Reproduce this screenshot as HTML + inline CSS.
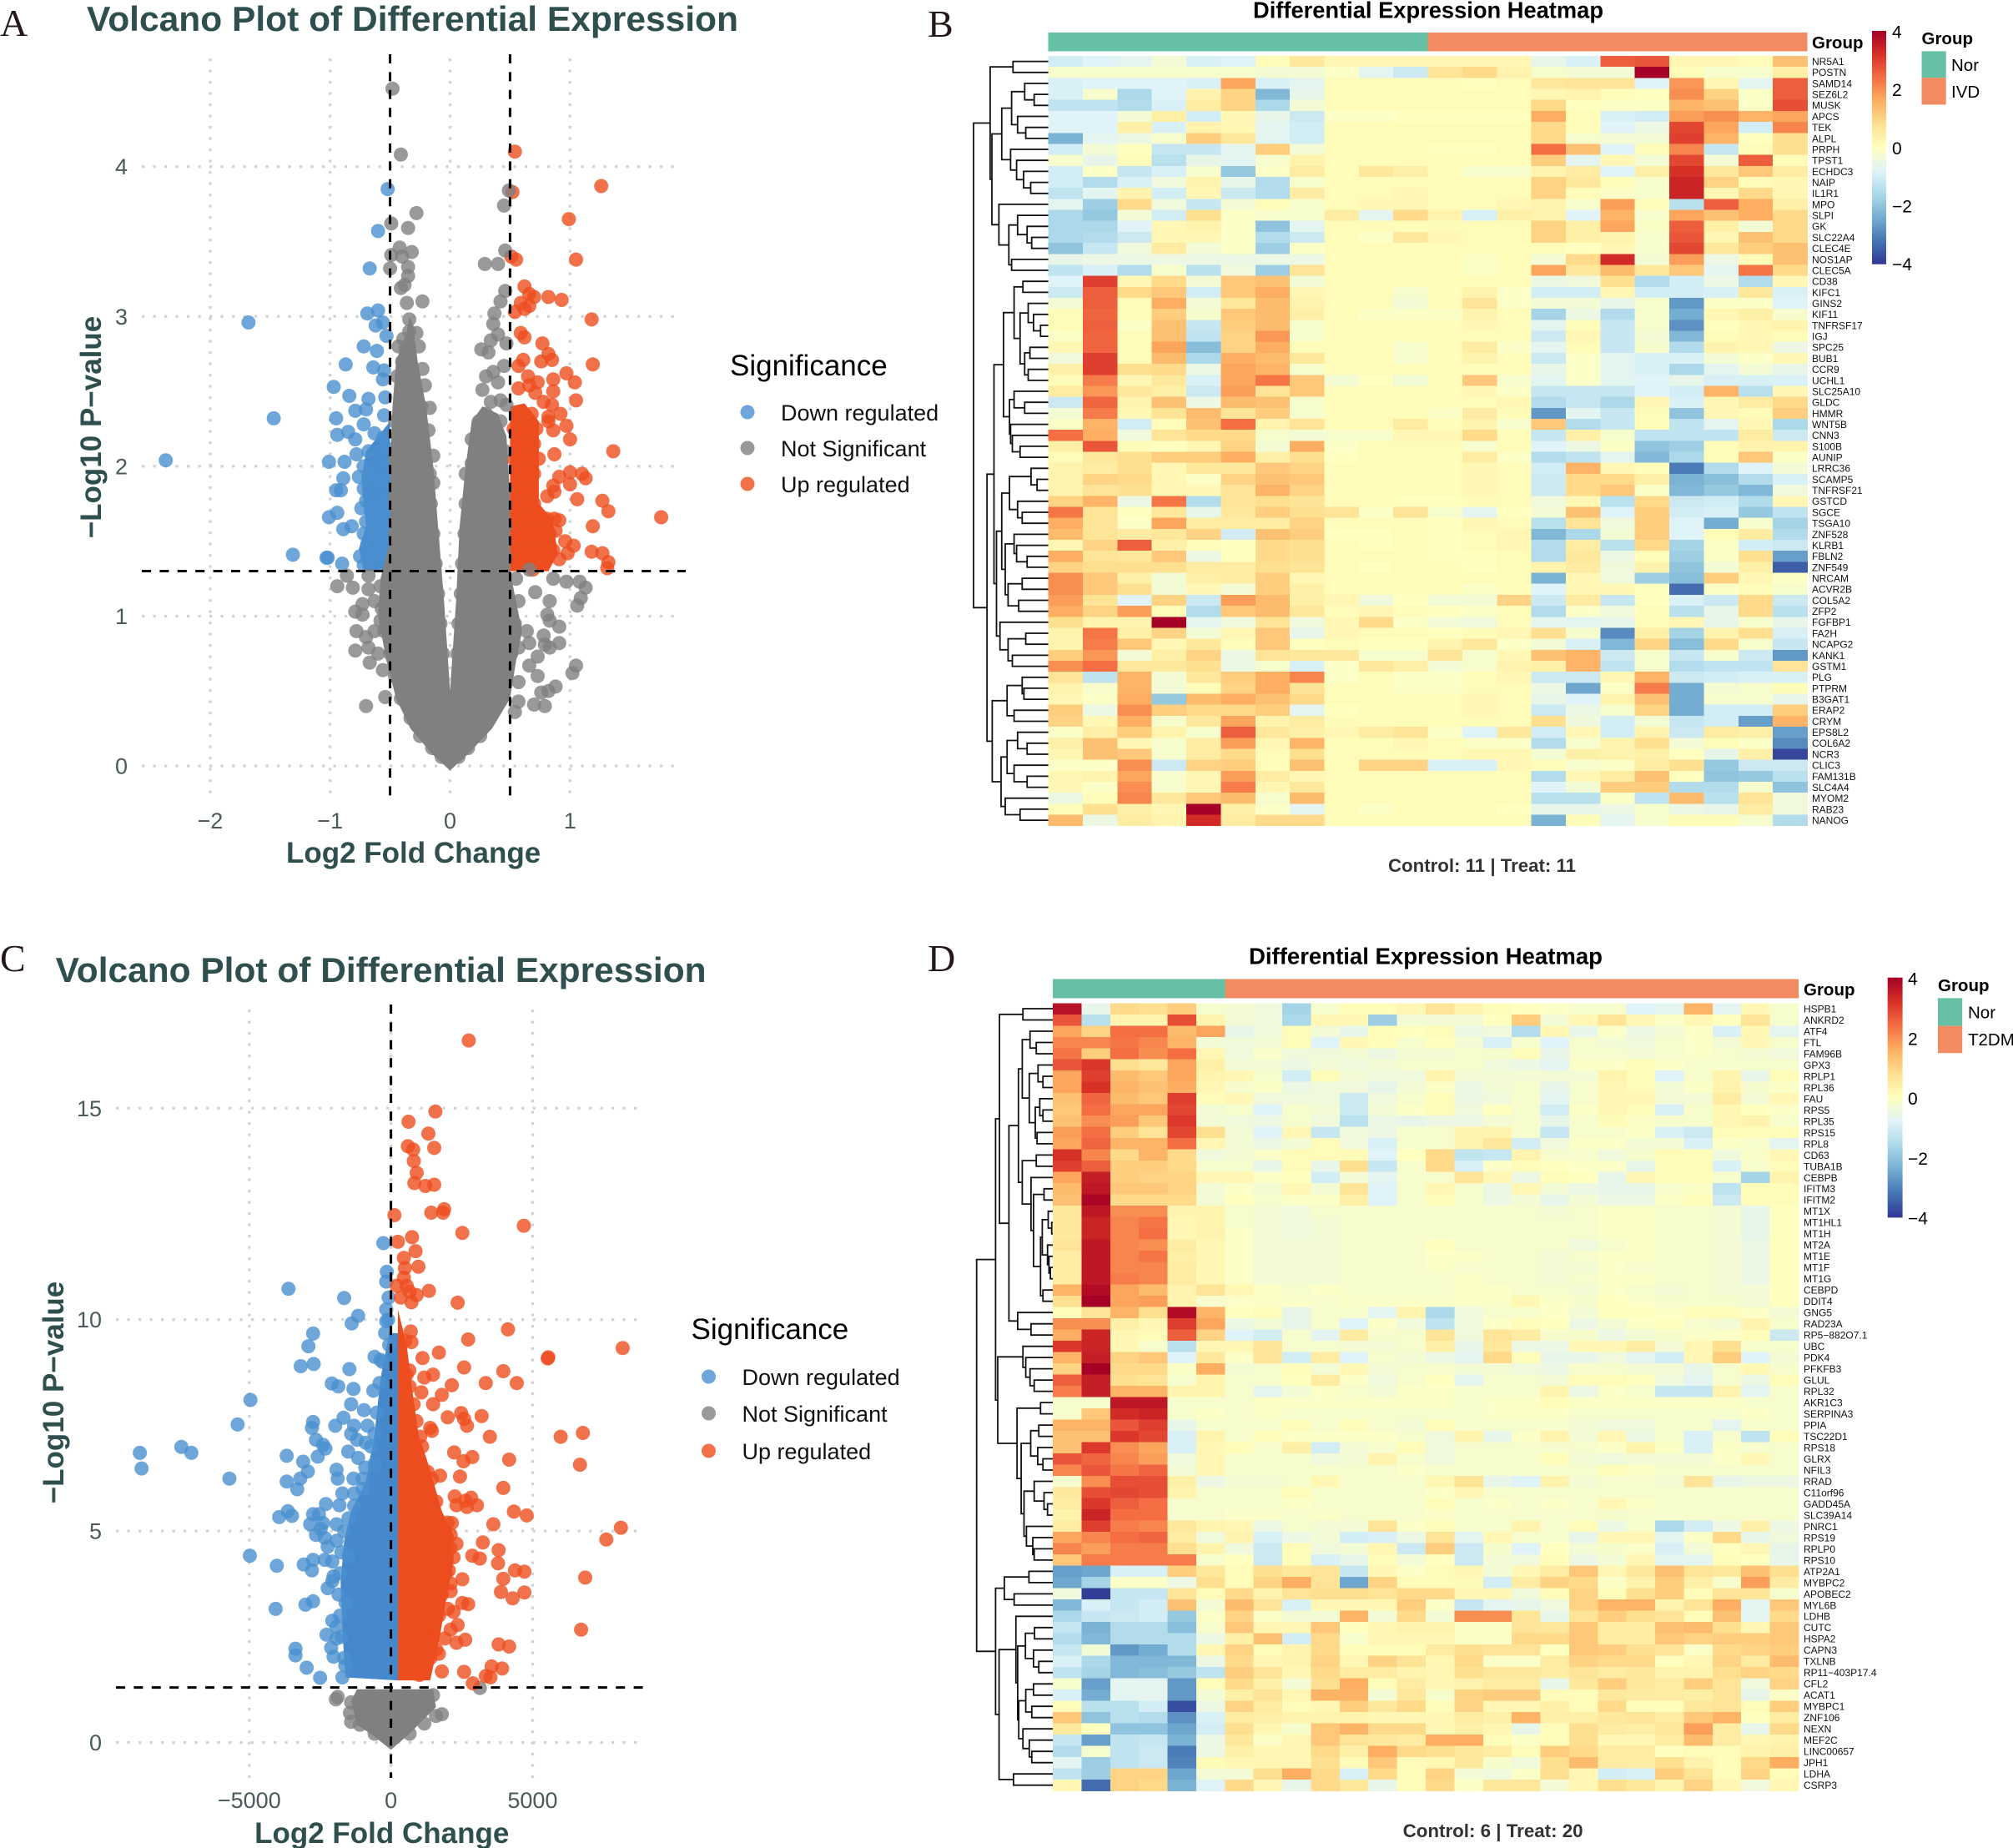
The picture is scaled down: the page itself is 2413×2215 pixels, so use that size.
<!DOCTYPE html>
<html lang="en">
<head>
<meta charset="utf-8">
<title>Volcano plots and differential expression heatmaps</title>
<style>
html,body{margin:0;padding:0;background:#fff;}
svg{display:block;overflow:hidden;font-family:"Liberation Sans",Arial,sans-serif;}
.letter{font-family:"Liberation Serif",serif;font-size:46px;fill:#231815;}
.vtitle{font-weight:bold;font-size:42px;fill:#2F4F4F;}
.axt{font-weight:bold;font-size:35px;fill:#2F4F4F;}
.legt{font-size:35px;fill:#000;}
.legl{font-size:27px;fill:#111;}
.htitle{font-weight:bold;font-size:27.5px;fill:#000;}
.cap{font-weight:bold;font-size:22px;fill:#333;}
.grp{font-weight:bold;font-size:20.5px;fill:#000;}
.hleg{font-size:20.5px;fill:#000;}
</style>
</head>
<body>
<svg id="fig" xmlns="http://www.w3.org/2000/svg" width="2413" height="2215" viewBox="0 0 2413 2215">
<defs>
<linearGradient id="cbarGrad" x1="0" y1="0" x2="0" y2="1"></linearGradient>
</defs>
<rect x="0" y="0" width="2413" height="2215" fill="#fff"/>

<g id="panelA">
<text class="letter" x="0" y="43">A</text>
<text class="vtitle" x="104" y="37" textLength="781" lengthAdjust="spacingAndGlyphs">Volcano Plot of Differential Expression</text>
<text class="axt" x="495.6" y="1034" text-anchor="middle">Log2 Fold Change</text>
<text class="axt" x="121" y="512" text-anchor="middle" transform="rotate(-90 121 512)">−Log10 P−value</text>
<text class="legt" x="875" y="450">Significance</text>
<circle cx="896" cy="494" r="8.5" fill="#4A90D0" fill-opacity=".8"/>
<text class="legl" x="936" y="504">Down regulated</text>
<circle cx="896" cy="537" r="8.5" fill="#808080" fill-opacity=".8"/>
<text class="legl" x="936" y="547">Not Significant</text>
<circle cx="896" cy="580" r="8.5" fill="#EE4E1E" fill-opacity=".8"/>
<text class="legl" x="936" y="590">Up regulated</text>
</g>

<g id="panelC">
<text class="letter" x="0" y="1164">C</text>
<text class="vtitle" x="66.6" y="1177" textLength="780" lengthAdjust="spacingAndGlyphs">Volcano Plot of Differential Expression</text>
<text class="axt" x="457.7" y="2209" text-anchor="middle">Log2 Fold Change</text>
<text class="axt" x="76" y="1669" text-anchor="middle" transform="rotate(-90 76 1669)">−Log10 P−value</text>
<text class="legt" x="828.5" y="1605">Significance</text>
<circle cx="849.5" cy="1650" r="8.5" fill="#4A90D0" fill-opacity=".8"/>
<text class="legl" x="889.5" y="1660">Down regulated</text>
<circle cx="849.5" cy="1694" r="8.5" fill="#808080" fill-opacity=".8"/>
<text class="legl" x="889.5" y="1704">Not Significant</text>
<circle cx="849.5" cy="1739" r="8.5" fill="#EE4E1E" fill-opacity=".8"/>
<text class="legl" x="889.5" y="1749">Up regulated</text>
</g>

<g id="panelB">
<text class="letter" x="1112" y="44">B</text>
<text class="htitle" x="1502" y="21.5" textLength="420" lengthAdjust="spacingAndGlyphs">Differential Expression Heatmap</text>
<text class="grp" x="2172" y="58">Group</text>
<text class="grp" x="2303.5" y="53">Group</text>
<rect x="2303.5" y="61.4" width="29.2" height="31.8" fill="#66C0A5"/>
<rect x="2303.5" y="93.2" width="29.2" height="32.2" fill="#F28B61"/>
<text class="hleg" x="2339" y="85">Nor</text>
<text class="hleg" x="2339" y="117">IVD</text>
<text class="cap" x="1664" y="1045" textLength="225" lengthAdjust="spacingAndGlyphs">Control: 11 | Treat: 11</text>
<rect x="2244" y="37" width="17" height="279.7" fill="url(#cbarGrad)"/>
</g>

<g id="panelD">
<text class="letter" x="1112" y="1164">D</text>
<text class="htitle" x="1497" y="1155.6" textLength="424" lengthAdjust="spacingAndGlyphs">Differential Expression Heatmap</text>
<text class="grp" x="2162" y="1193">Group</text>
<text class="grp" x="2323" y="1188">Group</text>
<rect x="2323" y="1196.3" width="29.2" height="33.3" fill="#66C0A5"/>
<rect x="2323" y="1229.6" width="29.2" height="32.6" fill="#F28B61"/>
<text class="hleg" x="2359" y="1220.5">Nor</text>
<text class="hleg" x="2359" y="1253">T2DM</text>
<text class="cap" x="1681.6" y="2202" textLength="216" lengthAdjust="spacingAndGlyphs">Control: 6 | Treat: 20</text>
<rect x="2262.7" y="1171.7" width="17.9" height="287.7" fill="url(#cbarGrad)"/>
</g>
</svg>

<script>
/* ---------- Panel A data: [log2FC, -log10 p] ---------- */
const aXTicks=[-2,-1,0,1];
const aYTicks=[0,1,2,3,4];
const aVLines=[-0.5,0.5];
const aHLine=1.301;
const aDown=[[-2.37,2.04],[-1.68,2.96],[-1.47,2.32],[-1.31,1.41],[-1.03,1.39],[-1.02,1.39],[-.9,1.35],[-1.01,2.03],[-.88,2.03],[-.89,1.92],[-.95,1.84],[-.91,1.84],[-1.01,1.66],[-.94,1.69],[-.89,1.58],[-.82,1.6],[-.97,2.53],[-.84,2.47],[-.95,2.32],[-.87,2.68],[-.72,2.8],[-.67,3.32],[-.6,3.57],[-.52,3.85],[-.69,3.02],[-.6,3.04],[-.62,2.94],[-.56,2.96],[-.53,2.87],[-.61,2.77],[-.64,2.66],[-.55,2.64],[-.56,2.58],[-.68,2.45],[-.54,2.46],[-.55,2.34],[-.79,2.37],[-.7,2.38],[-.72,2.28],[-.94,2.21],[-.85,2.23],[-.79,2.18],[-.63,2.22],[-.56,2.19],[-.78,2.08],[-.68,2.1],[-.6,2.1],[-.53,2.12],[-.72,2],[-.64,2],[-.55,2.03],[-.76,1.93],[-.68,1.93],[-.6,1.93],[-.53,1.95],[-.72,1.85],[-.64,1.85],[-.56,1.87],[-.7,1.77],[-.62,1.78],[-.54,1.79],[-.74,1.72],[-.66,1.7],[-.58,1.71],[-.52,1.72],[-.7,1.63],[-.62,1.63],[-.55,1.64],[-.72,1.55],[-.65,1.56],[-.58,1.56],[-.52,1.58],[-.69,1.48],[-.62,1.49],[-.55,1.49],[-.75,1.4],[-.68,1.41],[-.6,1.42],[-.53,1.42],[-.72,1.34],[-.64,1.35],[-.57,1.35],[-.52,1.36]];
const aUp=[[.54,4.1],[.52,3.83],[1.26,3.87],[.99,3.65],[1.05,3.38],[.51,3.4],[.55,3.38],[.62,3.2],[.66,3.15],[.7,3.13],[.82,3.13],[.93,3.11],[.59,3.09],[.66,3.07],[.54,3.03],[.62,3.05],[1.18,2.98],[.59,2.89],[.62,2.86],[.77,2.82],[.82,2.75],[1.19,2.68],[.76,2.7],[.85,2.71],[.61,2.71],[.57,2.67],[.97,2.62],[1.04,2.56],[.86,2.58],[.65,2.6],[.73,2.56],[.86,2.5],[.66,2.54],[.57,2.52],[.71,2.49],[1.05,2.44],[.78,2.43],[.85,2.41],[.92,2.35],[.82,2.33],[.97,2.27],[.86,2.24],[.82,2.3],[1,2.18],[.87,2.08],[1.36,2.1],[1,1.96],[1.1,1.95],[1.13,1.92],[.91,1.93],[.86,1.87],[1,1.88],[.87,1.83],[.81,1.8],[1.06,1.78],[1.27,1.77],[1.32,1.7],[1.76,1.66],[1.19,1.6],[.91,1.64],[.88,1.57],[1.18,1.43],[1.27,1.42],[1.32,1.36],[1.31,1.32],[1.03,1.47],[.96,1.5],[.98,1.42],[.91,1.38],[.86,1.44],[.79,1.38],[.69,1.31],[.55,2.35],[.62,2.35],[.68,2.35],[.53,2.25],[.6,2.25],[.67,2.25],[.72,2.25],[.56,2.15],[.63,2.15],[.7,2.15],[.53,2.05],[.6,2.05],[.67,2.05],[.74,2.05],[.56,1.95],[.63,1.95],[.7,1.95],[.53,1.85],[.6,1.85],[.67,1.85],[.56,1.75],[.63,1.75],[.7,1.75],[.53,1.65],[.6,1.65],[.67,1.65],[.74,1.65],[.81,1.65],[.87,1.65],[.56,1.55],[.63,1.55],[.7,1.55],[.77,1.55],[.83,1.55],[.53,1.45],[.6,1.45],[.67,1.45],[.74,1.45],[.81,1.45],[.55,1.37],[.62,1.37],[.7,1.37],[.78,1.37]];
const aNS=[[-.48,4.52],[-.41,4.08],[-.28,3.69],[-.49,3.62],[-.35,3.59],[-.42,3.46],[-.32,3.43],[-.49,3.41],[-.4,3.4],[-.5,3.32],[-.35,3.33],[-.35,3.27],[-.38,3.21],[-.41,3.19],[-.23,3.1],[-.36,3.09],[-.34,2.98],[-.34,2.9],[-.28,2.89],[-.39,2.85],[-.26,2.8],[-.43,2.8],[-.23,2.65],[-.21,2.54],[-.17,2.39],[-.18,2.24],[-.14,2.07],[-.14,1.89],[.49,3.84],[.45,3.74],[.46,3.44],[.29,3.35],[.4,3.35],[.46,3.17],[.42,3.1],[.37,3.02],[.36,2.95],[.4,2.88],[.34,2.84],[.47,2.82],[.26,2.78],[.32,2.76],[.3,2.6],[.36,2.63],[.45,2.67],[.27,2.51],[.4,2.56],[.42,2.44],[.34,2.43],[.3,2.35],[.18,2.02],[.47,2.41],[-.86,1.27],[-.94,1.2],[-.81,1.19],[-.68,1.18],[-.73,1.08],[-.79,1.03],[-.73,1.01],[-.78,.9],[-.7,.86],[-.79,.77],[-.68,.79],[-.67,.69],[-.56,.64],[-.7,.4],[-.54,.46],[-.63,.9],[-.6,.75],[-.63,1.1],[-.68,1.27],[-.58,.97],[1.13,1.19],[1.08,1.23],[.97,1.23],[.86,1.25],[1.09,1.12],[1.06,1.07],[.83,1.1],[.81,1.01],[.83,.97],[.91,.93],[.78,.87],[.91,.82],[.83,.79],[.79,.81],[.73,.73],[.66,.82],[1.05,.67],[1.02,.62],[.66,.67],[.73,.6],[.88,.53],[.82,.5],[.76,.49],[.7,.41],[.79,.4],[.57,.56],[.57,.43],[.54,.36],[.57,.79],[.64,.9],[.71,1.16],[.66,1.31],
[-.17,1.95],[-.16,1.75],[-.14,1.55],[-.12,1.35],[-.1,1.15],[-.08,.95],[-.06,.75],[.13,1.95],[.13,1.75],[.12,1.55],[.1,1.35],[.09,1.15],[.07,.95],[.06,.75],
[-.58,1.2],[-.57,1.05],[-.55,.9],[-.5,.75],[-.46,.6],[-.41,.45],[-.33,.32],[-.25,.2],[-.15,.12],[-.07,.06],[.07,.06],[.15,.12],[.25,.2],[.33,.32],[.41,.45],[.46,.6],[.51,.75],[.54,.95],[.57,1.1],[.55,1.25],
[-.44,2.6],[-.4,2.7],[-.3,2.55],[-.37,2.78],[-.24,2.4],[-.46,2.3],[-.46,2.05],[-.46,1.8],[-.46,1.55],[.32,2.33],[.24,2.3],[.18,2.18],[.42,2.3],[.46,2.1],[.46,1.85],[.46,1.6],[.46,1.4]];
/* silhouettes of the overplotted clouds */
const aNSCore=[[0,-.03],[-.15,.08],[-.33,.25],[-.45,.45],[-.53,.7],[-.6,1],[-.58,1.25],[-.5,1.5],[-.5,2],[-.48,2.4],[-.45,2.7],[-.36,2.9],[-.34,3],[-.31,2.95],[-.27,2.7],[-.2,2.4],[-.14,2],[-.1,1.6],[-.05,1.1],[0,.5],[.05,1.1],[.08,1.6],[.13,2],[.18,2.3],[.27,2.4],[.4,2.35],[.47,2.2],[.5,1.8],[.5,1.3],[.55,1.1],[.6,.9],[.55,.7],[.5,.45],[.35,.25],[.15,.08]];
const aDownCore=[[-.5,1.3],[-.72,1.3],[-.76,1.45],[-.7,1.6],[-.74,1.9],[-.7,2.1],[-.6,2.2],[-.5,2.3]];
const aUpCore=[[.5,1.3],[.82,1.3],[.9,1.42],[.85,1.65],[.74,1.75],[.74,2.3],[.62,2.42],[.5,2.4]];

/* ---------- Panel C data ---------- */
const cXTicks=[-5000,0,5000];
const cYTicks=[0,5,10,15];
const cVLines=[0];
const cHLine=1.301;
const cDown=[[-8863,6.85],[-8801,6.48],[-7396,6.99],[-7045,6.85],[-5702,6.24],[-5413,7.52],[-4958,8.1],[-4979,4.42],[-4029,4.18],[-4070,3.16],[-3677,6.78],[-3099,6.64],[-3615,10.73],[-1653,10.51],[-1157,10.09],[-1384,9.91],[-2748,9.67],[-2913,9.37],[-3182,8.9],[-2727,8.95],[-1467,8.83],[-2087,8.49],[-1859,8.42],[-1322,8.36],[-1405,8],[-2748,7.58],[-2789,7.44],[-1963,7.49],[-1673,7.68],[-1302,7.49],[-826,7.49],[-950,7.86],[-620,8.32],[-578,9.12],[-372,9.05],[-269,11.81],[-145,11.13],[-165,10.9],[-83,10.52],[-165,10.24],[-165,9.96],[-207,9.68],[-62,9.4],[-2645,7.16],[-2397,7.04],[-2314,6.95],[-2583,6.76],[-2934,6.41],[-3202,6.24],[-3677,6.17],[-3306,5.99],[-1921,6.45],[-1880,6.24],[-1405,7.3],[-1198,7.16],[-1508,6.88],[-1157,6.73],[-888,7.09],[-578,7.3],[-1322,6.24],[-991,6.24],[-578,6.59],[-2293,5.64],[-2541,5.4],[-2748,5.4],[-3636,5.47],[-3946,5.33],[-3491,5.36],[-2851,5.16],[-2397,5.19],[-1921,5.16],[-2645,4.91],[-2335,4.84],[-2479,5.05],[-3078,4.21],[-2748,4.32],[-2789,4.07],[-2335,4.32],[-2066,4.28],[-2025,3.93],[-2066,3.82],[-2231,3.65],[-3016,3.26],[-2748,3.34],[-2066,2.88],[-1921,2.74],[-2273,2.55],[-1921,2.46],[-2107,2.24],[-3368,2.22],[-3368,2.06],[-2975,1.77],[-2500,1.53],[-2025,2.03],[-1715,1.54],[-1611,1.82],[-1818,5.61],[-1715,5.89],[-1302,5.89],[-2231,4.63],[-1921,4.77],
[-1650,2],[-1750,2.5],[-1800,3],[-1850,3.5],[-1800,4],[-1750,4.5],[-1650,5],[-1500,5.3],[-1300,5.6],[-1000,6],[-900,6.5],[-700,7],[-500,7.8],[-400,8.5],[-300,9],[-100,10],[-1600,3.3],[-1500,4.4]];
const cUp=[[2748,16.6],[1570,14.92],[620,14.68],[1322,14.4],[599,14.1],[785,14.02],[1529,14.06],[806,13.75],[909,13.47],[826,13.23],[1219,13.16],[1529,13.19],[124,12.47],[1426,12.53],[1880,12.61],[1839,12.53],[4690,12.22],[2521,12.05],[248,11.84],[744,11.95],[868,11.62],[455,11.46],[971,11.25],[496,11.22],[455,10.99],[207,10.8],[558,10.8],[1343,10.68],[661,10.66],[909,10.58],[723,10.41],[351,10.52],[2355,10.4],[4132,9.77],[2727,9.53],[702,9.72],[8181,9.33],[5558,9.11],[5537,9.08],[723,9.47],[1694,9.22],[1116,9.09],[2583,8.87],[3967,8.78],[1488,8.7],[1178,8.63],[4442,8.5],[3347,8.5],[2149,8.45],[558,8.7],[661,8.42],[1074,8.28],[1797,8.22],[1488,8],[2479,7.79],[3202,7.72],[2004,7.69],[2583,7.65],[2686,7.49],[1384,7.44],[1446,7.37],[3492,7.23],[5991,7.23],[6777,7.32],[1033,7.23],[2231,6.86],[2872,6.75],[2562,6.65],[4173,6.69],[6673,6.57],[2438,6.29],[1735,6.31],[3967,6.02],[1446,6.24],[2252,5.82],[2830,5.79],[2314,5.61],[2624,5.72],[2686,5.57],[3037,5.61],[4339,5.46],[4793,5.37],[3615,5.16],[2149,5.19],[8119,5.08],[7603,4.8],[2107,4.91],[2314,4.7],[3244,4.73],[3801,4.55],[2872,4.42],[3140,4.35],[2211,4.38],[3781,4.24],[6859,3.9],[2045,4.07],[3967,3.87],[4380,4.07],[4710,4.04],[2521,3.86],[2107,3.76],[3884,3.56],[4710,3.55],[4297,3.41],[1694,3.65],[2107,3.58],[2727,3.27],[2521,3.3],[2004,3.16],[2211,3.09],[2355,2.78],[2107,2.67],[6714,2.67],[2624,2.43],[2314,2.36],[1900,2.46],[3801,2.32],[4173,2.27],[1694,2.1],[3553,1.8],[3925,1.75],[2583,1.67],[3347,1.57],[3512,1.54],[2892,1.4],[1797,1.68],
[1400,2],[1500,2.6],[1700,3],[1800,3.5],[1950,4],[2100,4.6],[1900,5],[1600,5.7],[1300,6.4],[1100,7],[900,7.6],[800,8],[650,8.8],[500,9.5],[1200,1.8],[1000,1.6],[1600,2.2],[1750,3.9],[2000,5.2]];
const cNS=[[-1942,1.02],[-1880,1.08],[3140,1.29],[-1405,.95],[-1446,.7],[-1405,.49],[-1095,.42],[1591,.63],[1797,.67],[1178,.45],[-578,.21],[661,.21],[1074,.98],[1488,1.12]];
/* silhouettes of the overplotted clouds */
const cDownCore=[[-62,9.68],[-372,8.59],[-578,7.3],[-888,6.17],[-1405,5.47],[-1653,4.77],[-1777,3.79],[-1715,2.67],[-1611,1.54],[248,1.47],[248,9.68]];
const cUpCore=[[248,10.24],[558,9.4],[764,8.28],[971,7.3],[1384,6.45],[1797,5.47],[2211,4.91],[2211,4.28],[1942,3.37],[1735,2.53],[1384,1.47],[248,1.47]];
const cNSCore=[[0,-.17],[-578,.14],[-1198,.42],[-1405,.98],[-1198,1.26],[1488,1.26],[1591,.84],[661,.21]];

/* ---------- Heatmap shared ---------- */
const heatPalette=["#313695","#4575B4","#74ADD1","#ABD9E9","#E0F3F8","#FFFFBF","#FEE090","#FDAE61","#F46D43","#D73027","#A50026"];
const heatTicks=[4,2,0,-2,-4];

/* ---------- Heatmap B ---------- */
const bGroups=[11,11];
const bGenes=["NR5A1","POSTN","SAMD14","SEZ6L2","MUSK","APCS","TEK","ALPL","PRPH","TPST1","ECHDC3","NAIP","IL1R1","MPO","SLPI","GK","SLC22A4","CLEC4E","NOS1AP","CLEC5A","CD38","KIFC1","GINS2","KIF11","TNFRSF17","IGJ","SPC25","BUB1","CCR9","UCHL1","SLC25A10","GLDC","HMMR","WNT5B","CNN3","S100B","AUNIP","LRRC36","SCAMP5","TNFRSF21","GSTCD","SGCE","TSGA10","ZNF528","KLRB1","FBLN2","ZNF549","NRCAM","ACVR2B","COL5A2","ZFP2","FGFBP1","FA2H","NCAPG2","KANK1","GSTM1","PLG","PTPRM","B3GAT1","ERAP2","CRYM","EPS8L2","COL6A2","NCR3","CLIC3","FAM131B","SLC4A4","MYOM2","RAB23","NANOG"];
const bValues=[
[-1,-.8,-.7,-.3,-.9,-.8,.1,.6,.2,.2,.2,.2,.2,.2,-.6,-.9,2.6,2.7,.2,.2,.1,1.3],
[-.2,-.2,-.2,-.2,-.2,-.2,-.3,-.3,-.1,-.7,-1.1,.7,.9,.3,-.2,-.3,-.3,4,.1,-.2,-.2,.4],
[-.9,-.8,-.8,-.8,-.9,1.7,-.9,-.7,.1,.1,.1,.1,0,.1,.6,.7,.7,-.8,1.9,.2,-.7,2.6],
[-.9,-.2,-1.6,-.8,.3,1,-2.2,-.6,.1,.1,.1,.1,.1,.1,.2,.3,.1,0,2,1,-.1,2.6],
[-1.3,-1.3,-1.5,-.9,.5,1,-1.6,-.3,.1,.1,.1,.1,.1,.1,.9,0,-.1,-.1,1.5,1.3,-.1,2.8],
[-.8,-.8,-.3,.4,-1,.2,-.6,-1.1,-.1,-.1,0,0,0,0,1.6,.1,-.9,-1,1.8,2,1.5,1.7],
[-.8,-.8,.4,-.9,.3,.2,-.7,-1,.1,.1,.1,.1,.1,.1,.9,.1,-.8,-.5,2.9,1.7,-1,2.1],
[-2.3,-.7,-.5,-.2,1.1,.6,-.7,-1,.1,.1,.1,.1,.1,.1,.9,-.2,-.3,-.3,3,1.5,0,.8],
[-1,-.3,0,-1.2,-1.2,-.7,1.1,-.3,.1,.1,.1,0,0,.1,2.4,1.3,-.8,.1,2.1,-1.2,.1,.8],
[-.2,-.6,.1,-1.4,-.6,-.7,-.2,.3,.1,.1,.1,.1,.1,.1,1.1,-.7,.2,-.3,2.9,-.3,2.6,.1],
[-1,-.1,-1.2,-.9,-.2,-1.9,-.1,.5,.1,.6,.4,.1,-.2,-.2,.3,.5,-.8,.4,3.2,.6,1.2,.5],
[-1,-1.5,-.9,-.4,.3,-.6,-1.5,-.2,.1,.1,.1,.1,.1,.1,1,.6,.1,-.2,3.4,1,.1,.2],
[-1.3,-.7,.3,-1,.2,-1.1,-1.5,.5,.1,.1,.2,.1,.1,.1,1,.1,-.1,-.2,3.4,.2,.9,.2],
[-.7,-1.8,.9,-.4,-1.2,-.3,.1,-.2,.1,.2,.2,.1,.1,.2,.3,-.2,1.8,.1,-1.4,2.6,1.6,.4],
[-1.6,-1.9,-.3,-1,.8,-.1,-.2,-.2,.5,-.7,.9,.3,-.9,.4,.3,-.8,1.5,-.2,1.7,1.3,1.6,.9],
[-1.6,-1.6,-.8,.2,.3,-.1,-2,-.7,.1,.1,.1,.1,.1,.1,1,.4,1.7,-.1,2.6,.4,-.3,.9],
[-1.6,-1.5,-1.1,.2,.2,-.1,-1.5,-1.1,.1,-.1,.6,.2,.1,.1,1,.4,.3,-.2,2.7,.2,1.3,.9],
[-2,-1.2,-.4,.5,-.3,-.1,-1.8,-.1,.1,.1,.1,.1,.1,.1,.1,0,.2,-.2,2.9,.6,1.1,1.3],
[-.6,-.5,-.5,-.5,-.5,-.5,-.5,-.5,.1,.1,.1,.1,-.1,.1,-.3,.9,3.3,-.3,1.8,-.5,.1,1.3],
[-1.3,-.9,-1.5,-.2,-1.4,-.4,-1.8,.7,.1,.1,.1,.1,-.1,.1,1.7,.6,1.4,.6,1.2,-.7,2.3,.9],
[-.8,3,.2,.9,-.3,1.2,1.3,-.3,.1,.1,.1,.1,.1,.1,-.5,-.4,.8,-1.5,-1,-.5,-1.5,.2],
[-1.1,2.6,.9,1.2,-1,1.2,1.6,.2,.1,.1,-.2,.1,.3,-.1,-1,-1,.2,-1,-1,-.9,.6,-.9],
[-.3,2.6,.1,1.6,-.3,.6,1.4,.3,.1,.1,-.3,.1,.7,-.1,-.3,-.3,-.6,-.2,-2.7,-.1,-.1,-.8],
[.1,2.5,.1,1.1,-.2,1.2,1.4,.4,.1,-.1,-.1,-.1,.3,.1,-1.7,-.5,-1.5,-.2,-2.4,.2,.4,-.2],
[.1,2.6,-.1,1.3,-1.2,1.1,1.4,-.2,.1,.1,.1,.1,.2,.1,-.7,.1,-1.2,-.2,-2.8,0,.2,.3],
[-.1,2.5,.1,1.3,-1.3,1,1.9,-.2,.1,.1,.1,.1,.1,.1,-1.1,.2,-1.2,-.3,-2.2,.1,.2,.1],
[.2,2.5,.1,1.7,-2.1,1,1.6,.1,.1,.1,-.2,.1,.5,-.1,-.7,.1,-1.2,-.2,-1.5,.3,.2,-.5],
[-.4,3,.1,1.4,-1.6,1.6,1.4,.6,.1,.1,-.2,.1,.3,.1,-1.1,-.1,-.7,-.9,-.9,-.3,-.1,.2],
[.4,3,.8,.9,-.5,1.7,1.5,-.2,.1,.1,.1,.1,.1,.1,-.6,-.1,-.7,-.9,-1.6,-.7,-.3,-.6],
[.1,2.2,.2,.6,-.9,1.7,2.3,1.2,-.3,0,-.3,.1,1.2,-.2,-.7,-.1,-.7,-.8,-.6,-.9,-.9,-.9],
[.5,1.9,.6,.4,-1.1,1.8,.7,1.2,.1,.1,.1,.1,.2,-.1,-1.2,-1.2,-1.2,-.8,-1,1.5,-1.4,.2],
[-1.1,2.5,.3,1.3,-.5,1.4,1.3,-.2,.1,.1,.1,.1,.1,.2,-1.5,-1.2,-1.6,.2,-.9,.2,.5,.9],
[-.3,2.2,.2,.7,1.4,.7,1.1,-.2,.1,.1,.1,-.1,.5,.1,-2.7,-.7,-1.2,.1,-2,.2,.1,1.1],
[-.1,1.5,-1,.1,1.3,2.4,.3,.7,.1,.1,.5,.1,.3,-.2,1.2,-1.5,-1.2,.1,-1.3,-.7,.2,-1.6],
[2.4,1.6,-.4,.7,.9,.9,-.2,-.3,-.2,-.2,.2,.2,.9,.1,-1.2,.4,-.2,-1.3,-1.3,-1.3,.5,-1.1],
[.4,2.7,.1,0,.2,1,-.3,1.6,-.1,.1,.1,.1,-.2,.1,-.8,-.5,-.1,-2,-1.8,.1,.3,.3],
[.1,.6,.8,1.1,1.1,1.6,.4,.8,0,.1,.1,.1,.5,-.1,-1.5,-1.3,-.7,-2.2,-1.6,.1,1.2,-.1],
[.3,.5,.8,.2,.6,.6,1.2,1,.1,.1,.1,.1,.2,.1,-1,1.5,.2,.1,-3.1,-1.5,-.8,-.3],
[.3,1,.9,.2,-.1,1,1.3,1.2,.1,.1,.1,.1,.2,.1,-1.1,.9,.9,.4,-2.3,-2.1,-1.5,-.9],
[.3,.7,.8,.2,.2,.7,1.5,1,.1,.1,.1,.1,.2,.1,-1.1,.9,1.2,-.1,-2.2,-1.9,-2.2,-.4],
[1,1.5,-.5,2.3,-1.5,.7,.8,.7,.1,.1,0,0,.1,.1,-.4,.2,-1.4,.9,-1.1,-1,-1.5,.2],
[2.3,.7,0,.6,-.6,.6,1.1,.8,.7,-.1,.7,-.2,-.7,0,-.3,1.3,-.8,1.1,-1,-.9,-1.9,-1.3],
[1.6,.7,-.1,1.7,.5,.5,.5,1,.1,.1,.1,0,.2,.1,-1.4,.7,-.4,1.1,-.8,-2.4,-.2,-1.7],
[1.4,.7,.5,.6,1,-1,1.3,1.1,0,0,.1,0,.1,.2,-2.2,-1.6,-.3,1.1,-.8,.1,.5,-1.5],
[.2,1,2.6,.4,.1,0,.9,.8,.1,0,.1,0,.1,.2,-1.5,.5,-1.4,.9,-1.7,-.1,-1,-1.1],
[1.6,.7,.6,1.2,-.5,0,.9,.8,.1,.1,.1,0,0,.1,-1.5,.6,-.5,.1,-1.8,-.1,.8,-2.6],
[1,.8,.8,.8,.5,.5,.8,.7,.1,0,.1,.1,0,.1,.3,.5,-.4,.3,-2,-.3,.4,-3.5],
[2,1.2,.4,-.3,.4,.5,1.1,.2,.1,.1,.1,.1,.1,.1,-2.3,.2,-.4,-1.8,-2.1,1.1,.2,-.1],
[2,1.2,.8,-.3,.2,-.3,1.1,.4,.1,.1,.1,.1,-.1,.1,-.8,.2,.2,0,-3.3,-.1,.1,-.2],
[1.8,.7,-.8,1,-1.1,1.8,1.4,.4,.2,-.4,0,-.3,-.3,1,-1.1,.5,-1.2,0,-.9,-1.1,.9,-1.1],
[1.6,1,1.8,.1,-1.5,1.2,1.4,.6,.1,.2,.1,0,-.1,.1,-1.5,-.1,-.4,.1,-1.4,-.6,.9,-1.4],
[.8,.3,.3,4,-.7,-.4,.7,-.4,.2,.9,-.1,-.3,-.4,.1,-.7,-.7,-.6,.1,.2,-.6,-.2,-.6],
[.3,2.3,.4,1,-.3,.2,1.2,-.6,.2,.1,.1,0,.1,.2,.8,-.2,-2.9,.4,-1.7,.3,.8,-.9],
[.3,2.2,1.2,.2,.6,.1,1.2,0,.1,0,0,.3,.6,-.1,-.3,-.9,-2.2,1,-2.1,.9,-.2,-1.2],
[1.1,1.9,-.3,.4,1,-.5,.7,.6,.6,-.2,-.2,.7,-.2,.2,1.3,1.5,-1.1,-.2,-1.2,-.2,-1.1,-2.7],
[2,2.4,.6,.6,.8,-.5,-.2,-.9,-.1,.6,.4,-.3,-.2,.3,.4,1.5,-1.3,-.2,-1.5,-1.3,-1.3,.7],
[.7,-1.3,1.5,-.3,.6,1.1,1.6,2.1,-.1,.1,-.1,-.1,.1,.2,-1.1,-1.1,.2,1.5,-1.1,-1,-.9,-.9],
[.3,-.2,1.5,-.3,.1,1,1.6,.7,.1,.1,-.1,-.1,.1,.1,-.5,-2.5,-.1,2.2,-2.4,-.3,-.2,.1],
[.2,-.1,1.6,-1.9,1.4,1.6,1.3,.9,.1,.1,.1,.1,.2,.1,-.6,-.8,.3,1.3,-2.4,-.2,-.2,-.6],
[1.1,-.5,2,1.1,.9,.9,1.1,-.7,0,.1,.1,.1,.2,.1,-1.1,-.5,-.2,1,-2.4,-1,-1,1.1],
[1,.2,1.6,-.2,.6,1.7,.3,.5,.1,.1,.1,.1,.1,.1,.8,-.4,-1,-.3,-1.2,-1,-2.6,1.5],
[-.1,.4,1.1,.3,-.2,2.6,.6,.4,.2,.5,.7,-.1,-.8,.6,-1,.2,-1,.3,-1.1,.5,.4,-2.6],
[.4,1.3,.2,-.2,.5,1.8,.2,1.5,.1,.1,.2,.1,-.1,-.1,-1.5,-.2,.3,.8,-.3,.1,-.1,-2.9],
[.2,1.3,1.2,-.2,.5,.9,.1,.8,.1,.1,.1,.1,.2,.2,-.3,.4,.3,.4,0,-.6,.4,-3.8],
[-.1,-.1,2,-1.1,1,1.1,.1,1.3,.1,1,1,-.9,-.9,.2,.1,-.2,-.1,.5,.8,-1.9,-1.1,-1.1],
[.2,.3,1.7,-.2,.2,1.8,.5,.2,.1,.1,.1,.1,.1,.1,-1.5,.2,.5,1.3,0,-2,-1.9,-1.4],
[.2,-.1,2,-.2,.2,2.2,.2,.6,.1,.1,.1,.1,.1,.1,-.8,-.3,1.1,1.1,-1.5,-1.5,-.2,-2],
[-.5,.1,2.1,.6,1.2,1.4,-.2,1.4,.1,.1,.1,.1,.1,.1,-1.4,-1.4,-.1,-1.3,1.4,-1.4,.7,-.4],
[.1,.8,.4,.2,4,.4,-.1,-.7,.1,-.1,.1,.1,.1,0,-.6,-.6,-.5,-.2,-.5,-.6,.5,-.4],
[1.4,-.5,.5,.3,3.3,.5,.9,.9,.1,.1,.1,.1,.1,.1,-2.3,.1,-.7,-.2,.1,.1,-.2,-1.5]
];
/* dendrogram: [merge height, left child, right child]; numbers are row indices */
const bTree=[212,
 [165,[100,0,1],
  [160,
   [132,[104,[67,2,[40,3,4]],[87,5,[64,6,7]]],[107,8,[90,9,[70,10,[50,11,12]]]]],
   [140,13,[112,[87,14,[60,15,[47,16,17]]],[104,18,19]]]
  ]],
 [174,
  [154,
   [127,
    [97,[72,20,21],[80,[57,22,[42,23,[22,24,25]]],[67,[52,26,27],[57,28,29]]]],
    [110,[97,30,[67,31,32]],[107,33,[102,34,[80,35,36]]]]
   ],
   [147,
    [132,[110,[49,37,[32,38,39]],[87,40,[74,41,42]]],[122,[97,43,[90,44,[60,45,46]]],[114,[74,47,48],[84,49,50]]]],
    [137,51,[114,[64,52,53],[102,54,55]]]
   ]
  ],
  [159,
   [117,[74,56,[69,57,58]],[97,59,60]],
   [134,[117,[87,61,[60,62,63]],[97,64,[60,65,66]]],[122,67,[80,68,69]]]
  ]
 ]
];

/* ---------- Heatmap D ---------- */
const dGroups=[6,20];
const dGenes=["HSPB1","ANKRD2","ATF4","FTL","FAM96B","GPX3","RPLP1","RPL36","FAU","RPS5","RPL35","RPS15","RPL8","CD63","TUBA1B","CEBPB","IFITM3","IFITM2","MT1X","MT1HL1","MT1H","MT2A","MT1E","MT1F","MT1G","CEBPD","DDIT4","GNG5","RAD23A","RP5−882O7.1","UBC","PDK4","PFKFB3","GLUL","RPL32","AKR1C3","SERPINA3","PPIA","TSC22D1","RPS18","GLRX","NFIL3","RRAD","C11orf96","GADD45A","SLC39A14","PNRC1","RPS19","RPLP0","RPS10","ATP2A1","MYBPC2","APOBEC2","MYL6B","LDHB","CUTC","HSPA2","CAPN3","TXLNB","RP11−403P17.4","CFL2","ACAT1","MYBPC1","ZNF106","NEXN","MEF2C","LINC00657","JPH1","LDHA","CSRP3"];
const dValues=[
[3.7,-.6,.9,.8,1.1,-.2,-.3,-.4,-1.7,-.2,.1,.1,.2,.7,.3,.1,0,-.1,-.2,-.2,-.8,-.7,1.5,-.7,.2,-.2],
[2.7,-1.4,.3,.3,2.8,.3,-.3,-.4,-1.6,.2,.2,-1.8,-.3,-.3,-.3,0,1.1,-.3,.2,.7,.2,-.1,.2,0,.7,-.2],
[1.7,1,2.4,2.4,1.4,1.7,-.6,-.4,.1,-.3,-.6,.1,0,.1,-.5,-.4,-1.5,.2,-.6,-.1,-.5,-.3,-.1,-.9,.2,-.7],
[2.1,2.1,2.3,2.1,1.5,-.3,-.4,-.3,.1,-.8,.2,.1,-.2,0,-.3,-.9,-.2,-.8,-.2,-.3,-.4,-.2,-.1,-.3,.2,-.2],
[2.3,1.1,2.4,2,2.4,.2,-.4,-.1,-.4,-.4,-.3,-.5,-.3,-.3,-.2,-.2,.1,-.6,-.2,-.2,-.3,-.2,-.1,-.2,-.3,-.4],
[2.7,3.1,.8,.6,1.7,.4,-.3,-.3,-.5,-.3,-.4,-.3,-.2,-.2,-.2,-.4,-.5,-.7,-.1,-.1,.1,-.1,-.2,-.2,-.2,-.2],
[1.7,3,1.4,1.2,1.7,.3,.2,-.2,-1,.1,-.3,-.4,-.4,.3,-.3,-.3,-.3,-.3,-.3,.3,.1,-.8,-.2,.3,-.6,.1],
[1.7,3.2,1.5,1.3,1.6,.2,-.2,-.1,-.5,-.4,-.4,-.6,-.3,-.1,-.5,-.3,-.2,-.6,-.2,.2,.1,-.3,-.1,.3,-.2,-.1],
[1.3,2.5,1.4,1.2,3,.1,.2,-.4,-.4,-.4,-1.1,-.4,-.2,.1,-.5,-.4,-.2,-.7,-.2,.2,.2,-.3,-.3,.5,-.3,.2],
[1.2,2.4,1.7,1.7,2.9,-.3,-.2,-.8,-.2,-.3,-1.1,-.3,-.1,.1,-.4,0,-.2,-1,-.1,.2,.1,-.9,-.2,.2,0,-.1],
[1.3,2,1.8,1.2,3.1,-.3,-.4,-.5,-.2,-.4,-1.4,-.5,-.6,-.5,-.5,-.3,-.2,-.6,-.2,.1,-.1,-.2,-.2,.2,.3,-.2],
[1.8,2.4,1.1,.7,2.9,.8,-.3,-.8,.2,-1.2,-.4,-.5,-.2,-.2,.3,.3,-.2,-1.2,-.2,-.2,-.1,-.9,-1.1,.1,.1,.1],
[1.7,2.5,1.5,1.5,2.4,.2,-.3,-.5,-.3,.1,-.4,-.9,-.2,-.2,.3,.6,-1,-.4,-.1,-.1,-.3,-.3,-.9,-.1,-.2,-.7],
[3.2,2.1,.9,1.5,.9,-.4,-.3,-.1,.1,.1,.1,-.8,0,.9,-1.3,-1.2,.3,-.2,-.2,-.4,-.2,.1,.1,-.4,-.1,.2],
[3,2.6,1.1,1.1,.9,-.2,-.2,-.6,.1,-.6,.8,-1.2,-.2,.9,-.9,-.1,.1,0,-.1,-.1,-.6,.1,.1,-.9,-.2,.1],
[1.7,3.5,1.1,1,1,.2,.2,-.1,0,-1,-.3,-.7,-.2,-.2,.7,.2,-.5,.1,0,-.6,.2,.1,.1,-.2,-1.7,.3],
[1.4,3.6,1.2,1.2,1,-.3,-.1,-.3,.2,-.3,.7,-.8,-.2,.2,-.2,-.5,.2,-.3,-.5,-.6,-.6,-.2,-.1,-1.3,.1,.1],
[1.3,3.9,.9,.9,.9,-.3,0,-.2,-.1,-.1,.4,-.8,-.2,.1,-.2,-.5,-.3,-.6,-.3,-.5,-.5,-.1,.1,-1.1,.1,.1],
[.6,3.6,2,2,.3,.3,-.2,-.3,-.4,-.2,-.2,-.2,-.2,-.2,-.2,-.2,-.2,-.3,-.2,-.1,-.1,-.2,-.2,-.3,-.6,0],
[.6,3.4,2.1,2.3,.2,.3,-.2,-.3,-.4,-.3,-.2,-.2,-.2,-.2,-.2,-.2,-.2,-.2,-.2,-.1,-.1,-.2,-.2,-.3,-.6,0],
[.6,3.4,2.1,2.4,.2,.3,-.1,-.3,-.4,-.3,-.2,-.2,-.2,-.2,-.2,-.2,-.2,-.2,-.2,-.1,-.1,-.2,-.2,-.3,-.6,0],
[.7,3.6,2.1,2,.5,.2,-.1,-.3,-.3,-.3,-.2,-.2,-.2,0,-.2,-.2,-.2,-.2,-.4,-.2,-.1,-.2,-.2,-.3,-.5,0],
[.5,3.6,2.1,2.3,.4,.2,-.1,-.3,-.3,-.3,-.2,-.2,-.2,-.1,-.1,-.2,-.2,-.3,-.2,-.1,-.1,-.2,-.2,-.3,-.5,0],
[.5,3.6,2.1,2.1,.5,.2,-.1,-.3,-.3,-.3,-.2,-.2,-.2,-.1,-.2,-.2,-.2,-.3,-.3,-.1,-.2,-.2,-.2,-.3,-.5,0],
[.5,3.6,2.2,2.1,.5,.2,-.1,-.3,-.3,-.3,-.2,-.2,-.2,-.2,-.1,-.2,-.2,-.3,-.2,-.1,-.1,-.2,-.2,-.3,-.5,0],
[1.5,3.8,1.7,1.4,.3,.7,.2,-.1,-.2,-.1,-.2,-.2,-.2,-.2,-.1,-.1,-.2,-.2,-.3,-.1,-.2,-.3,-.2,-.3,-.3,0],
[.8,4,1.7,1.8,.3,-.2,-.1,-.1,-.1,-.2,-.1,-.1,-.1,-.1,-.1,-.1,.2,-.1,-.2,0,-.1,-.2,-.2,-.2,-.3,0],
[.1,.7,1.5,.8,3.8,1.5,0,.1,-.6,-.2,-.2,-.7,.3,-1.6,-.4,-.2,-.2,-.1,-.3,0,0,-.1,.1,.1,-.1,-.3],
[2,2,.4,.2,3,1.7,-.5,-.3,-.6,-.2,-.8,-.1,-.4,-1.3,-.4,-.1,.1,0,-.5,-.3,-.1,0,-.2,-.3,.3,-.2],
[1.6,3.4,.2,.1,2.6,1,-.8,-1,-.2,-.7,.5,-.2,-.2,.7,-.4,.7,.5,-.2,-.2,-.5,-.3,-.2,-.1,-.1,.1,-1.1],
[3.1,3.4,.2,-.2,-1.4,.2,.2,.7,-.2,-.2,-.3,-.3,-.2,.4,-.6,.6,-.5,-.5,.2,.2,.5,-.3,.2,.8,-.2,-.2],
[1.5,3.5,1,1.2,-.8,.6,-.1,.7,-1,.5,-.8,-.2,-.3,-.5,-.7,.9,.1,-.6,-.6,-.4,-.7,-1,.2,1.1,-.8,-.3],
[1,4,.9,.9,-.1,1.6,-.3,-.2,.1,-.3,.2,-.3,-.2,-.2,-.3,-.3,-.4,-.5,-.2,-.2,-.3,-.3,-.6,-.2,.2,-.2],
[2.6,3.5,.8,.7,-.2,.3,-.2,-.2,0,.5,-.1,-.4,-.2,0,-.7,-.2,-.2,-.3,.1,.1,0,-.4,-.7,-.2,-.5,.1],
[2.2,3.5,1.5,1.5,.3,.3,-.2,-.7,-.3,-.1,-.2,-.3,-.1,-.1,-.2,-.2,-.2,.3,-.5,-.1,-.2,-1.2,-1.2,.3,-.7,-.2],
[-.2,-.2,3.6,3.6,-.2,-.2,-.2,-.1,-.1,-.1,-.1,-.1,-.1,-.1,-.2,-.1,-.1,.1,-.1,-.1,-.1,-.1,-.1,-.1,-.2,-.2],
[-.2,1.2,3.3,3.4,-.2,-.1,-.2,-.1,-.2,-.2,-.2,-.2,-.2,-.2,-.2,-.1,-.1,-.1,-.2,-.2,-.2,-.2,-.2,-.2,-.1,-.2],
[1.5,1.5,2.7,3,-.6,-.2,-.2,-.2,.1,-.2,.1,-.2,-.3,.1,-.2,-.2,-.2,-.2,-.3,-.4,-.4,-.2,-.2,-.7,-.2,-.2],
[1.3,1.3,3.1,2.9,-.9,.3,-.2,.1,-.1,-.1,-.1,-.1,-.2,-.4,.3,-.6,-.1,.3,-.3,.2,-.5,-.2,-.9,-.2,-1.3,.1],
[1.3,3.1,2,1.7,-.9,.2,.1,-.2,.4,-1,-.3,-.2,.1,-.4,-.2,-.2,-.2,-.2,-.2,-.1,.3,-.1,-.9,-.1,-.2,-.2],
[2.7,2.5,2.1,1.8,-.4,.2,-.2,-.2,-.2,-.4,-.3,.3,-.2,-.4,-.2,-.2,-.2,.1,-.3,-.4,-.3,-.3,-.3,-.1,.2,-.2],
[2.1,2.7,2.3,2.5,-.3,.2,-.2,-.2,-.2,-.2,-.2,-.2,-.1,-.2,-.2,-.2,-.2,-.2,-.2,.1,-.1,-.2,-.2,-.2,-.2,-.2],
[-.2,2,2.8,2.8,.4,-.5,-.3,-.3,-.2,.2,-.2,-.2,-.2,.2,.7,-.6,-.8,.3,-.3,-.2,-.2,-.3,.7,-.6,-.5,-.5],
[.6,2.8,2.9,2.8,.3,-.2,-.2,-.2,.1,-.2,-.2,-.2,-.2,-.1,.2,-.2,-.2,-.2,-.2,-.2,-.2,-.2,-.2,-.2,-.2,-.2],
[.5,3.1,2.6,2.4,-.2,-.2,-.2,-.2,-.1,-.2,-.2,-.2,-.2,.1,-.2,-.1,-.2,-.1,-.2,.2,-.1,-.2,-.2,-.2,-.2,-.2],
[.3,3.4,2.4,2.4,-.2,-.2,-.1,-.1,-.2,-.1,-.2,-.2,-.2,-.1,-.2,-.2,-.2,-.2,-.2,-.2,-.2,-.2,-.2,-.2,-.2,-.2],
[.5,3,2.2,2.1,.6,.3,.2,-.5,-.2,-.3,-.3,.7,-.1,.1,-.2,-.2,.3,-.2,.1,-.5,-.2,-1.6,-1,-.5,.4,-.5],
[1.7,2.1,2.4,2.5,.5,-.4,.3,-.9,-.5,-.3,-1,-.9,-.5,.7,-.7,.2,-.2,-.2,-.6,.2,.2,-.7,-.1,.9,-.6,-.4],
[2.1,1.8,2.2,2.2,.8,.3,-.4,-1.1,.1,-.4,-.3,.2,-1.1,1.1,-1.1,-.2,-.8,0,-.3,-.2,-.1,-.9,-.3,0,.2,-.6],
[1.2,2.2,2.2,2.2,2.2,-.2,0,-1.1,.1,-.9,-.6,.1,-.3,0,-1.1,-.3,-.4,.1,-.5,-.3,.2,-.7,-.7,.1,0,-.6],
[-2.6,-2.5,-.9,-.9,1.1,.6,.1,.8,.6,.7,-1.2,.2,-.1,.1,.2,-.3,.2,.5,1.2,.2,.6,1.3,.7,.6,1.3,.8],
[-2.5,-1.7,-.1,-.1,-.5,.8,.1,1,1.6,.7,-2.5,1,.1,.1,.1,-1,.5,1,.9,-.1,.3,1.1,.4,-.2,1.8,.5],
[-.4,-3.9,-1.2,-1.2,.7,.1,.9,.3,.7,.8,.8,.7,.9,.9,.2,.2,-.4,.1,1,.1,.8,1.1,.1,.7,.7,-.2],
[-2.2,-.9,-1.2,-1,1.3,-.3,1.4,.7,-.9,.2,.2,.2,1.1,-.1,-1.2,-.7,-.6,-.4,1,1.5,1.5,.3,.7,1.6,-.7,1.2],
[-1.6,-1.2,-1.1,-1,-1.9,-.1,1,-.1,-.3,-.3,1.5,-.3,.9,-.3,2,2,.7,-.6,.7,1.1,.8,.7,.1,1.3,-.7,.9],
[-1.2,-2.3,-1.5,-1.5,-2.1,-.2,1.2,.2,.2,1.2,0,.2,.3,.3,-.1,-.1,.7,.6,1.2,.5,.5,1.3,1.4,.8,.2,1.2],
[-1.5,-2.2,-1.5,-1.5,-1.5,-.5,.4,1.3,-1,.9,-.2,.2,.2,.2,-.1,-.1,.9,.9,1.2,.5,.5,1.2,1,1.1,1.1,1.2],
[-1.2,-.3,-2.7,-2.4,-1.5,.2,1,.1,.3,.9,.1,.1,.1,.5,.8,.7,.7,0,1.2,1.1,.8,.7,-.1,.9,1,1.1],
[-.9,-1.6,-2.2,-2.2,-2.2,-.5,.9,.2,.3,1,.2,1,.7,.2,.9,-.1,-.1,.5,1,.9,.9,0,.2,1,.5,1.4],
[-1.3,-1.7,-2.2,-2.1,-1.9,-1.3,1.1,.7,.2,.9,.5,.5,.3,.2,.8,.6,.6,.5,.7,.5,.6,.3,.3,.8,1,.9],
[-.2,-2.6,-.7,-.7,-2.7,.1,.9,.4,-.3,.8,1.6,.1,.5,.2,.3,.5,.5,-.6,.6,1.1,.6,.5,1.1,.7,-.4,1],
[-.9,-2.4,-.7,-.7,-2.7,-.3,.4,.7,.2,1.5,1.5,-.3,.6,-.2,1,1.1,1.1,.1,.1,.6,.5,.5,.4,.7,-.6,-.1],
[.1,-1.4,-1.4,-1,-3.7,-.5,1,.5,.1,.2,1.1,.6,.9,.1,1,.2,.2,.4,.1,.9,.1,.1,.6,.7,.1,1.1],
[1.2,-2,-1.4,-1.5,-2.8,-.9,.5,.4,.3,.3,.3,.2,.2,.2,.5,.4,1.5,.4,.4,.6,.7,.5,1.2,1.5,0,.5],
[.6,0,-2,-2,-2.5,-1,.8,.2,-.2,1.2,1.5,.9,.9,.2,.4,.2,-.6,.1,.8,.5,.4,.6,1.8,.5,-.6,.9],
[-1.2,-2.6,-1.3,-1.2,-2.3,-.5,.6,-.1,.2,1.2,.7,.6,.5,1.6,1.6,.1,-.1,.1,.8,.2,.2,.5,1.4,.5,.2,.3],
[-1.5,-.2,-1.3,-1.1,-3.1,-.5,.4,.2,.2,.9,.4,1.6,.9,.8,.6,.5,.1,1.1,.9,.5,.5,0,.1,.1,.3,.4],
[-.7,-1.8,-1.3,-1.1,-3,.1,.2,.2,.2,.8,.1,1.2,.1,.2,.6,-.2,-.4,.8,1.4,.5,.5,.8,.3,.1,.9,1.6],
[-1.3,-1.8,1,1,-2.5,-.3,-.3,.8,1.6,.9,-.9,.9,.1,1,-.3,-.4,-.1,.8,.2,-1,-.9,1.1,.7,.1,1,.1],
[.2,-3.3,1,.9,-2.3,-.8,.9,.2,-.6,.9,.6,-.6,.1,.9,-.1,.6,.6,-.3,.2,.8,.6,.3,1,.2,-.4,.2]
];
const dTree=[217,
 [163,
  [152,[85,0,1],
   [125,
    [98,
     [87,[65,2,[47,3,4]],[67,[42,5,[28,6,7]],[50,[37,8,[28,9,10]],[45,11,12]]]],
     [87,[47,13,14],[62,15,[55,[25,16,17],[35,[30,[13,18,[3,19,20]],[15,21,[11,22,[7,23,24]]]],[28,25,26]]]]]
    ],
    [100,27,[62,28,29]]
   ]
  ],
  [157,
   [85,30,[77,31,[65,32,[53,33,34]]]],
   [102,[35,35,36],
    [90,
     [63,[40,37,38],[43,39,[28,40,41]]],
     [82,[53,42,[25,43,[15,44,45]]],[75,46,[57,47,[53,48,49]]]]
    ]
   ]
  ]
 ],
 [163,
  [138,[68,50,51],[110,52,53]],
  [153,
   [105,54,
    [100,
     [78,[52,55,56],[55,57,[40,58,59]]],
     [97,[77,[55,60,61],[60,62,63]],[85,64,[67,65,[60,66,67]]]]
    ]
   ],
   [112,68,69]
  ]
 ]
];

/* ---------- Drawing ---------- */
const NS='http://www.w3.org/2000/svg';
function mk(tag,attrs,parent){
  const e=document.createElementNS(NS,tag);
  for(const k in attrs){e.setAttribute(k,attrs[k]);}
  parent.appendChild(e);
  return e;
}
function fmtTick(v){return String(Math.abs(v)===v?v:'\u2212'+Math.abs(v));}

/* colorbar gradient from palette */
(function(){
  const g=document.getElementById('cbarGrad');
  const n=heatPalette.length-1;
  heatPalette.forEach(function(c,i){
    mk('stop',{offset:(i/n),'stop-color':heatPalette[n-i]},g);
  });
})();

function drawVolcano(cfg){
  const root=document.getElementById(cfg.id);
  const xs=function(v){return cfg.x0+cfg.xk*v;};
  const ys=function(v){return cfg.y0-cfg.yk*v;};
  const grid=mk('g',{},root);
  
  
  cfg.yTicks.forEach(function(t){
    const l=mk('line',{x1:cfg.left,x2:cfg.right,y1:ys(t),y2:ys(t),stroke:'#D3D3D3','stroke-width':3.3,'stroke-dasharray':'3.3 10.2'},grid);
    
    
    const tx=mk('text',{x:cfg.yLabelX,y:ys(t)+9.5,'text-anchor':'end','font-size':27,fill:'#4A5A5A'},root);
    tx.textContent=fmtTick(t);
    
    
  });
  cfg.xTicks.forEach(function(t){
    const l=mk('line',{x1:xs(t),x2:xs(t),y1:cfg.top,y2:cfg.bottom,stroke:'#D3D3D3','stroke-width':3.3,'stroke-dasharray':'3.3 10.2'},grid);
    
    
    const tx=mk('text',{x:xs(t),y:cfg.xLabelY,'text-anchor':'middle','font-size':27,fill:'#4A5A5A'},root);
    tx.textContent=fmtTick(t);
    
    
  });
  cfg.layers.forEach(function(layer){
    const g=mk('g',{},root);
    
    
    if(layer.core){
      const pts=layer.core.map(function(p){return xs(p[0]).toFixed(1)+','+ys(p[1]).toFixed(1);}).join(' ');
      const poly=mk('polygon',{points:pts,fill:layer.coreColor},g);
      
      
    }
    layer.pts.forEach(function(p){
      const c=mk('circle',{cx:xs(p[0]).toFixed(1),cy:ys(p[1]).toFixed(1),r:8.5,fill:layer.color,'fill-opacity':.8},g);
      
      
    });
  });
  cfg.vLines.forEach(function(v){
    const l=mk('line',{x1:xs(v),x2:xs(v),y1:cfg.vTop,y2:cfg.bottom,stroke:'#000','stroke-width':3,'stroke-dasharray':'11 10.4'},root);
    
    
  });
  const h=mk('line',{x1:cfg.left,x2:cfg.right+8,y1:ys(cfg.hLine),y2:ys(cfg.hLine),stroke:'#000','stroke-width':3,'stroke-dasharray':'11 10.4'},root);
  
  
}

drawVolcano({id:'panelA',key:'volcano-a',x0:539.5,xk:143.8,y0:918.1,yk:179.6,left:170,right:814,top:70,bottom:961,vTop:65,yLabelX:153,xLabelY:993,
  xTicks:aXTicks,yTicks:aYTicks,vLines:aVLines,hLine:aHLine,
  layers:[{name:'down',pts:aDown,color:'#4A90D0',core:aDownCore,coreColor:'#4688CC'},{name:'up',pts:aUp,color:'#EE4E1E',core:aUpCore,coreColor:'#EC4E1F'},{name:'not-significant',pts:aNS,color:'#808080',core:aNSCore,coreColor:'#808080'}]});

drawVolcano({id:'panelC',key:'volcano-c',x0:468.6,xk:0.03396,y0:2088.6,yk:50.69,left:139,right:770,top:1210,bottom:2131,vTop:1204,yLabelX:122,xLabelY:2167,
  xTicks:cXTicks,yTicks:cYTicks,vLines:cVLines,hLine:cHLine,
  layers:[{name:'not-significant',pts:cNS,color:'#808080',core:cNSCore,coreColor:'#808080'},{name:'down',pts:cDown,color:'#4A90D0',core:cDownCore,coreColor:'#4688CC'},{name:'up',pts:cUp,color:'#EE4E1E',core:cUpCore,coreColor:'#EC4E1F'}]});

function heatColor(v){
  const n=heatPalette.length-1;
  const t=Math.max(0,Math.min(1,(v+4)/8))*n;
  const i=Math.min(n-1,Math.floor(t));
  const f=t-i;
  const a=heatPalette[i],b=heatPalette[i+1];
  let out='rgb(';
  for(let k=0;k<3;k++){
    const ca=parseInt(a.substr(1+2*k,2),16),cb=parseInt(b.substr(1+2*k,2),16);
    out+=Math.round(ca+(cb-ca)*f)+(k<2?',':')');
  }
  return out;
}

function drawHeatmap(cfg){
  const root=document.getElementById(cfg.id);
  const nRows=cfg.values.length;
  const nCols=cfg.values[0].length;
  const cw=(cfg.right-cfg.left)/nCols;
  const rh=(cfg.bottom-cfg.top)/nRows;
  /* annotation bar */
  let col=0;
  cfg.groups.forEach(function(n,i){
    const r=mk('rect',{x:cfg.left+col*cw,y:cfg.annoTop,width:n*cw,height:cfg.annoBottom-cfg.annoTop,fill:i===0?'#66C0A5':'#F28B61','shape-rendering':'crispEdges'},root);
    
    
    col+=n;
  });
  /* cells */
  const g=mk('g',{'shape-rendering':'crispEdges'},root);
  
  
  cfg.values.forEach(function(row,ri){
    row.forEach(function(v,ci){
      const r=mk('rect',{x:(cfg.left+ci*cw).toFixed(2),y:(cfg.top+ri*rh).toFixed(2),width:(cw+.5).toFixed(2),height:(rh+.5).toFixed(2),fill:heatColor(v)},g);
      
      
    });
  });
  /* gene labels */
  cfg.genes.forEach(function(name,ri){
    const t=mk('text',{x:cfg.labelX,y:(cfg.top+(ri+.5)*rh+4.4).toFixed(1),'font-size':12,fill:'#111'},root);
    t.textContent=name;
    
    
  });
  /* dendrogram */
  let d='';
  function walk(node){
    if(typeof node==='number'){return {x:cfg.left,y:cfg.top+(node+.5)*rh};}
    const a=walk(node[1]),b=walk(node[2]);
    const x=cfg.left-node[0]*cfg.treeK;
    d+='M'+a.x.toFixed(1)+' '+a.y.toFixed(1)+'H'+x.toFixed(1)+'V'+b.y.toFixed(1)+'H'+b.x.toFixed(1);
    return {x:x,y:(a.y+b.y)/2};
  }
  walk(cfg.tree);
  const p=mk('path',{d:d,fill:'none',stroke:'#111','stroke-width':1.8},root);
  
  
  /* colorbar ticks */
  heatTicks.forEach(function(v){
    const y=cfg.cbarTop+(4-v)/8*(cfg.cbarBottom-cfg.cbarTop);
    const t=mk('text',{x:cfg.cbarLabelX,y:(y+7.5).toFixed(1),'font-size':21,fill:'#000'},root);
    t.textContent=fmtTick(v);
    
    
  });
}

drawHeatmap({id:'panelB',key:'heatmap-b',left:1256.6,right:2166.5,top:67,bottom:989.7,annoTop:38.8,annoBottom:61.4,labelX:2172,treeK:.4226,
  values:bValues,genes:bGenes,groups:bGroups,tree:bTree,cbarTop:38,cbarBottom:316.7,cbarLabelX:2268});
drawHeatmap({id:'panelD',key:'heatmap-d',left:1262,right:2156,top:1202.3,bottom:2146.4,annoTop:1173.5,annoBottom:1196.6,labelX:2162,treeK:.4207,
  values:dValues,genes:dGenes,groups:dGroups,tree:dTree,cbarTop:1173,cbarBottom:1460,cbarLabelX:2287});
</script>
</body>
</html>
